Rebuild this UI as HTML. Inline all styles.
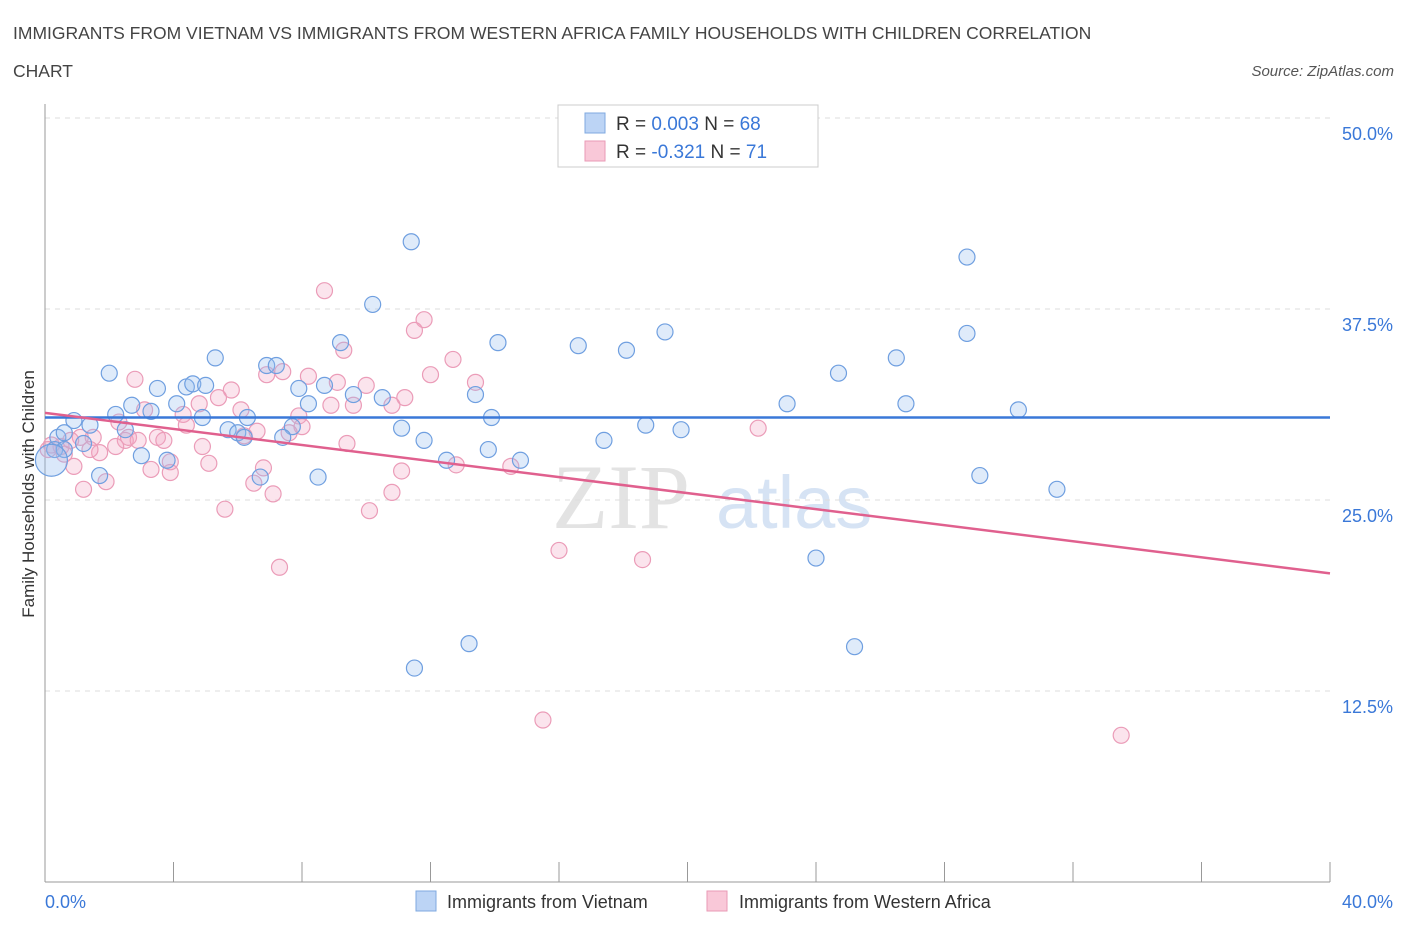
<!DOCTYPE html>
<html><head><meta charset="utf-8"><style>
body{margin:0;background:#fff;font-family:"Liberation Sans",sans-serif}
</style></head><body>
<svg id="chart" width="1406" height="930" xmlns="http://www.w3.org/2000/svg" font-family="Liberation Sans, sans-serif">
<text x="13" y="39" font-size="17.5" fill="#444">IMMIGRANTS FROM VIETNAM VS IMMIGRANTS FROM WESTERN AFRICA FAMILY HOUSEHOLDS WITH CHILDREN CORRELATION</text>
<text x="13" y="77" font-size="17.5" fill="#444">CHART</text>
<text x="1394" y="76" font-size="15" fill="#555" text-anchor="end" font-style="italic">Source: ZipAtlas.com</text>
<text x="552" y="528" font-size="92" fill="#ddd" font-family="Liberation Serif, serif" opacity="0.8">ZIP</text>
<text x="716" y="528" font-size="74" fill="#c5d8f0" opacity="0.7">atlas</text>
<g id="grid"></g>
<g id="axes"></g>
<g id="pts"></g>
<g id="trend"></g>
<text transform="translate(34,494) rotate(-90)" font-size="17" fill="#333" text-anchor="middle">Family Households with Children</text>
<g>
<rect x="558" y="105" width="260" height="62" fill="#fff" stroke="#ccc"/>
<rect x="585" y="113" width="20" height="20" fill="#bcd4f5" stroke="#7fa9e0"/>
<rect x="585" y="141" width="20" height="20" fill="#f9c8d8" stroke="#e99ab6"/>
<text x="616" y="130" font-size="19" fill="#333">R = <tspan fill="#3a78d8">0.003</tspan>   N = <tspan fill="#3a78d8">68</tspan></text>
<text x="616" y="158" font-size="19" fill="#333">R = <tspan fill="#3a78d8">-0.321</tspan>   N =  <tspan fill="#3a78d8">71</tspan></text>
</g>
<g>
<rect x="416" y="891" width="20" height="20" fill="#bcd4f5" stroke="#7fa9e0"/>
<text x="447" y="908" font-size="18" fill="#333">Immigrants from Vietnam</text>
<rect x="707" y="891" width="20" height="20" fill="#f9c8d8" stroke="#e99ab6"/>
<text x="739" y="908" font-size="18" fill="#333">Immigrants from Western Africa</text>
</g>
</svg>
<script>
const blueX=[11.4,28.7,10.2,9.2,14.1,16.6,18.1,19.3,28.7,5.3,6.9,7.2,2.0,24.7,26.5,3.5,4.4,4.6,5.0,7.9,8.7,9.6,10.5,13.4,23.1,26.8,30.3,4.1,2.7,3.3,2.2,0.9,1.4,2.5,6.3,4.9,13.9,11.1,7.7,8.2,18.7,19.8,5.7,6.0,6.2,7.4,11.8,17.4,0.4,0.6,1.2,0.3,3.0,3.8,12.5,13.8,14.8,1.7,6.7,8.5,29.1,31.5,24.0,13.2,25.2,11.5,0.6];
const blueY=[41.9,40.9,37.8,35.3,35.3,35.1,34.8,36.0,35.9,34.3,33.8,33.8,33.3,33.3,34.3,32.3,32.4,32.6,32.5,32.3,32.5,31.9,31.7,31.9,31.3,31.3,30.9,31.3,31.2,30.8,30.6,30.2,29.9,29.6,30.4,30.4,30.4,29.7,29.8,31.3,29.9,29.6,29.6,29.4,29.1,29.1,28.9,28.9,29.1,29.4,28.7,28.3,27.9,27.6,27.6,28.3,27.6,26.6,26.5,26.5,26.6,25.7,21.2,15.6,15.4,14.0,28.3];
const pinkX=[8.7,11.8,11.5,9.3,12.7,6.9,7.4,8.2,2.8,12.0,13.4,9.1,10.0,11.2,10.8,5.8,5.4,9.6,8.9,3.1,4.3,4.8,6.1,7.9,4.4,2.3,1.1,1.5,2.5,2.6,3.5,3.7,2.9,4.9,6.2,6.6,8.0,7.6,9.4,1.7,2.2,0.5,0.6,0.2,0.9,1.9,3.3,3.9,3.9,5.1,6.8,11.1,12.8,14.5,6.5,7.1,10.8,1.2,5.6,10.1,22.2,16.0,18.6,7.3,15.5,33.5,0.1,0.8,1.4];
const pinkY=[38.7,36.8,36.1,34.8,34.2,33.2,33.4,33.1,32.9,33.2,32.7,32.7,32.5,31.7,31.2,32.2,31.7,31.2,31.2,30.9,30.6,31.3,30.9,30.5,29.9,30.1,29.1,29.1,28.9,29.1,29.1,28.9,28.9,28.5,29.2,29.5,29.8,29.4,28.7,28.1,28.5,28.5,28.0,28.6,27.2,26.2,27.0,26.8,27.5,27.4,27.1,26.9,27.3,27.2,26.1,25.4,25.5,25.7,24.4,24.3,29.7,21.7,21.1,20.6,10.6,9.6,28.3,28.9,28.3];
const yTicks=[50,37.5,25,12.5];
const yTickLabels=["50.0%","37.5%","25.0%","12.5%"];
const xTicks=[0,4,8,12,16,20,24,28,32,36,40];
const xEndLabels=["0.0%","40.0%"];
const blueTrend=[30.4,30.4];
const pinkTrend=[30.7,20.2];
const xDomain=[0,40];

const NS="http://www.w3.org/2000/svg";
const X=v=>45+(v-xDomain[0])/(xDomain[1]-xDomain[0])*1285;
const Y=v=>882-v/50*764;
function mk(parent,tag,attrs){const e=document.createElementNS(NS,tag);for(const k in attrs)e.setAttribute(k,attrs[k]);document.getElementById(parent).appendChild(e);return e;}
yTicks.forEach((t,i)=>{
 const l=mk('grid','line',{x1:45,x2:1330,y1:Y(t),y2:Y(t),stroke:'#ddd','stroke-dasharray':'5,5'});
 
 
 const tx=mk('grid','text',{x:1393,y:Y(t)+22,'font-size':18,fill:'#3a78d8','text-anchor':'end'});
 tx.textContent=yTickLabels[i];
 
 
});
const ax=mk('axes','line',{x1:45,x2:45,y1:104,y2:882,stroke:'#999'});


const bx=mk('axes','line',{x1:45,x2:1330,y1:882,y2:882,stroke:'#999'});


xTicks.forEach(t=>{
 const l=mk('axes','line',{x1:X(t),x2:X(t),y1:862,y2:882,stroke:'#999'});
 
 
});
const xl0=mk('axes','text',{x:45,y:908,'font-size':18,fill:'#3a78d8'});xl0.textContent=xEndLabels[0];


const xl1=mk('axes','text',{x:1393,y:908,'font-size':18,fill:'#3a78d8','text-anchor':'end'});xl1.textContent=xEndLabels[1];


pinkX.forEach((x,i)=>{
 const c=mk('pts','circle',{cx:X(x),cy:Y(pinkY[i]),r:8,fill:'rgba(243,166,194,0.3)',stroke:'#eb9cb8','stroke-width':1.2});
 
 
});
blueX.forEach((x,i)=>{
 const c=mk('pts','circle',{cx:X(x),cy:Y(blueY[i]),r:8,fill:'rgba(150,188,240,0.3)',stroke:'#6f9fe0','stroke-width':1.2});
 
 
});
const big=mk('pts','circle',{cx:X(0.2),cy:Y(27.6),r:16,fill:'rgba(150,188,240,0.35)',stroke:'#6f9fe0','stroke-width':1.2});


const bt=mk('trend','line',{x1:X(0),x2:X(40),y1:Y(blueTrend[0]),y2:Y(blueTrend[1]),stroke:'#3a78d8','stroke-width':2.5});


const pt=mk('trend','line',{x1:X(0),x2:X(40),y1:Y(pinkTrend[0]),y2:Y(pinkTrend[1]),stroke:'#e0608e','stroke-width':2.5});


</script>
</body></html>
